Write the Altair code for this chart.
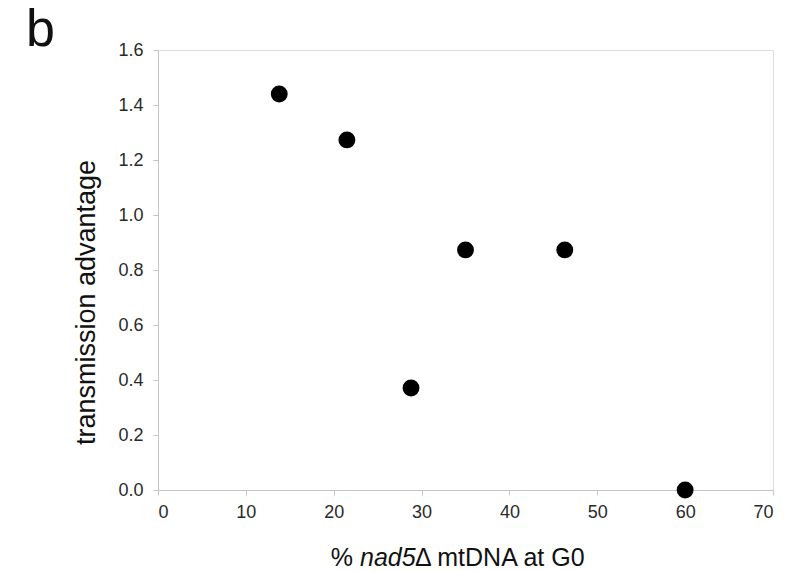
import altair as alt
import pandas as pd

# data
pct_nad5 = [13.8, 21.5, 28.8, 35.0, 46.3, 60.0]
transmission_adv = [1.44, 1.273, 0.371, 0.873, 0.873, 0.0]
x_ticks = [0, 10, 20, 30, 40, 50, 60, 70]
y_ticks = [0.0, 0.2, 0.4, 0.6, 0.8, 1.0, 1.2, 1.4, 1.6]
panel_label = ["b"]
xtitle_parts = ["%", "nad5", "Δ mtDNA at G0"]

FONT = "Liberation Sans"
W, H = 615, 440

df = pd.DataFrame({"x": pct_nad5, "y": transmission_adv})

points = alt.Chart(df).mark_circle(size=285, color="black", opacity=1).encode(
    x=alt.X("x:Q", scale=alt.Scale(domain=[0, 70], nice=False),
            axis=alt.Axis(values=x_ticks, title=None, grid=False,
                          domainColor="#c4c4c4", tickColor="#c4c4c4",
                          tickSize=5, labelPadding=8, labelFontSize=18,
                          labelFont=FONT, labelColor="#2a2a2a", format="d")),
    y=alt.Y("y:Q", scale=alt.Scale(domain=[0, 1.6], nice=False),
            axis=alt.Axis(values=y_ticks, format=".1f", grid=False,
                          title="transmission advantage",
                          titleFont=FONT, titleFontSize=27, titleFontWeight="normal",
                          titleColor="#111111", titleX=-72, titleY=252,
                          titleAngle=-90, titleAlign="center", titleBaseline="middle",
                          domainColor="#c4c4c4", tickColor="#c4c4c4",
                          tickSize=5, labelPadding=10, labelFontSize=18,
                          labelFont=FONT, labelColor="#2a2a2a")),
)

base_x = 202
base_y = 516
t1 = alt.Chart(pd.DataFrame({"t": [xtitle_parts[0]]})).mark_text(
    font=FONT, fontSize=25, align="right", baseline="alphabetic", color="#111111"
).encode(text="t:N", x=alt.value(base_x - 7), y=alt.value(base_y))
t2 = alt.Chart(pd.DataFrame({"t": [xtitle_parts[1]]})).mark_text(
    font=FONT, fontSize=25, fontStyle="italic", align="left", baseline="alphabetic", color="#111111"
).encode(text="t:N", x=alt.value(base_x), y=alt.value(base_y))
t3 = alt.Chart(pd.DataFrame({"t": [xtitle_parts[2]]})).mark_text(
    font=FONT, fontSize=25, align="left", baseline="alphabetic", color="#111111"
).encode(text="t:N", x=alt.value(base_x + 55), y=alt.value(base_y))

lab = alt.Chart(pd.DataFrame({"t": panel_label})).mark_text(
    font=FONT, fontSize=52, align="left", baseline="alphabetic", color="#111111"
).encode(text="t:N", x=alt.value(-132), y=alt.value(-4))

chart = alt.layer(points, t1, t2, t3, lab).properties(
    width=W, height=H,
    padding={"left": 158, "top": 50, "right": 805 - 158 - W, "bottom": 571 - 50 - H},
    autosize=alt.AutoSizeParams(type="none"),
).configure_view(stroke=None).configure(background="white")

chart.save("out.html", embed_options={"renderer": "svg", "actions": False})
